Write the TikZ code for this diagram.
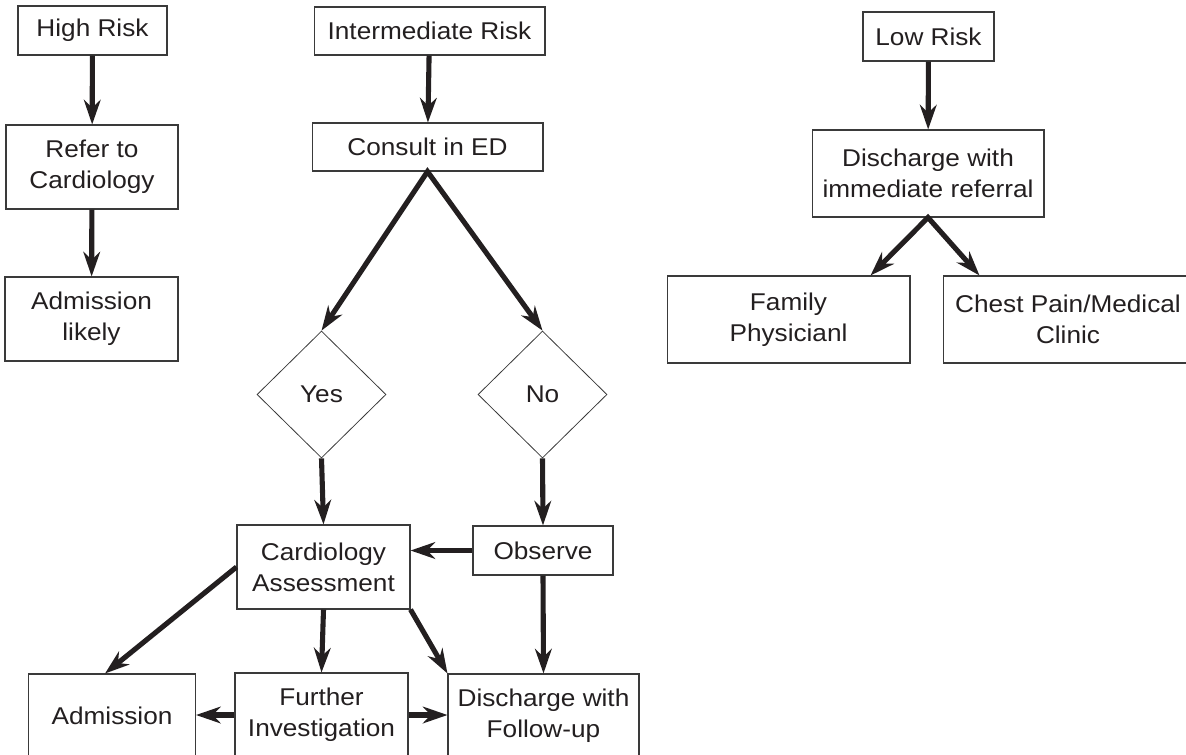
\documentclass[tikz,border=0pt]{standalone}
\usepackage{fontspec}
\setmainfont{Liberation Sans}[FakeStretch=1.08]
\usetikzlibrary {arrows.meta,shapes.geometric}
\definecolor{ink}{HTML}{231F20}
\definecolor{rule}{HTML}{3A3A3A}

\begin{document}
\begin{tikzpicture}[x=0.02cm, y=-0.02cm,
    box/.style={draw=rule, line width=0.6pt, align=center, inner sep=2pt, text=ink,
        font=\fontsize{13.8}{17.6}\selectfont},
    choice/.style={diamond, draw=rule, line width=0.45pt, inner sep=0pt, text=ink,
        minimum width=2.58cm, minimum height=2.54cm, font=\fontsize{13.8}{17.6}\selectfont},
    flow/.style={color=ink, line width=2.9pt},
    >={Stealth[length=14pt, width=9.5pt, inset=4.5pt]}]
    \useasboundingbox (0, 0) rectangle (1186, 754);

    % high risk column
    \node[box, minimum width=2.98cm, minimum height=0.98cm] at (92.5, 30.5)(hr){High Risk};
    \node[box, minimum width=3.44cm, minimum height=1.68cm] at (92, 167)(ref){Refer to\\Cardiology};
    \node[box, minimum width=3.46cm, minimum height=1.68cm] at (91.5, 319)(adml){Admission\\likely};

    % intermediate risk
    \node[box, minimum width=4.62cm, minimum height=0.96cm] at (429.5, 31)(ir){Intermediate Risk};
    \node[box, minimum width=4.62cm, minimum height=0.96cm] at (427.5, 147)(ed){Consult in ED};
    \node[choice] at (321.5, 394.5)(yes){Yes};
    \node[choice] at (542.5, 394.5)(no){No};
    \node[box, minimum width=3.46cm, minimum height=1.68cm] at (323.5, 567)(ca){Cardiology\\Assessment};
    \node[box, minimum width=2.8cm, minimum height=0.98cm] at (543, 550.5)(obs){Observe};
    \node[box, minimum width=3.34cm, minimum height=1.68cm] at (112, 716)(adm){Admission};
    \node[box, minimum width=3.46cm, minimum height=1.68cm] at (321.5, 715)(fi){Further\\Investigation};
    \node[box, minimum width=3.82cm, minimum height=1.68cm] at (543.5, 716)(dfu){Discharge with\\Follow-up};

    % low risk
    \node[box, minimum width=2.62cm, minimum height=0.98cm] at (928.5, 36.5)(lr){Low Risk};
    \node[box, minimum width=4.64cm, minimum height=1.74cm] at (928, 173.5)(dir){Discharge with\\immediate referral};
    \node[box, minimum width=4.86cm, minimum height=1.74cm] at (788.5, 319.5)(fp){Family\\Physicianl};
    \node[box, minimum width=5cm, minimum height=1.74cm] at (1068, 319.5)(cp){Chest Pain/Medical\\Clinic};

    \path[->, flow]
        (hr)edge(ref)
        (ref)edge(adml)
        (ir)edge(ed)
        (yes.south)edge(ca.north)
        (no.south)edge(obs.north)
        (obs.west)edge(obs.west -| ca.east)
        (ca.west)edge([xshift=-0.14cm]adm.north)
        (ca.south)edge(fi.north)
        (ca.south east)edge(dfu.north west)
        (obs.south)edge(dfu.north)
        (fi.west)edge(fi.west -| adm.east)
        (fi.east)edge(fi.east -| dfu.west)
        (lr)edge(dir)
        ;
    % forks with a sharp apex
    \draw[<->, flow] (yes.north) -- (ed.south) -- (no.north);
    \draw[<->, flow] ([xshift=-0.8cm]fp.north east) -- (dir.south) -- ([xshift=0.74cm]cp.north west);
\end{tikzpicture}
\end{document}
